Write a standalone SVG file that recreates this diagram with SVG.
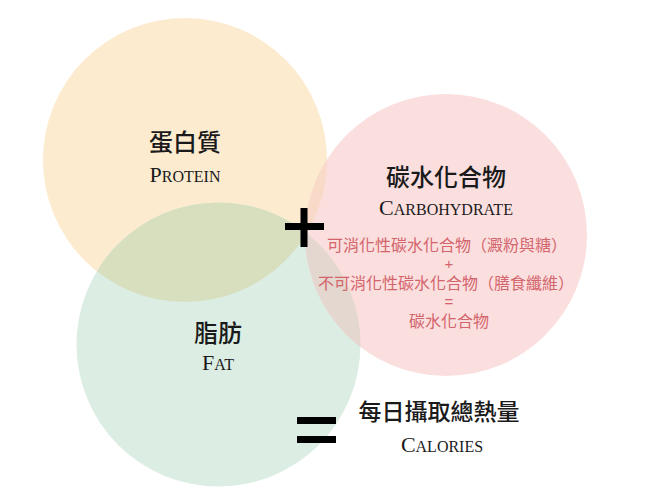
<svg xmlns="http://www.w3.org/2000/svg" width="650" height="499" viewBox="0 0 650 499">
<defs>
<style>
.zh{font-family:"Noto Sans CJK TC","Noto Sans CJK SC",sans-serif;fill:#1a1a1a;text-anchor:middle;font-weight:500}
.en{font-family:"Liberation Serif","DejaVu Serif",serif;fill:#1a1a1a;text-anchor:middle}
.big{font-size:22px}
.sm{font-size:16px}
.red{font-family:"Noto Sans CJK TC","Noto Sans CJK SC",sans-serif;fill:#d3646b;text-anchor:middle;font-size:16px}
.redop{font-family:"Liberation Sans",sans-serif;fill:#d3646b;text-anchor:middle;font-size:15px}
.op{fill:#000}
</style>
<clipPath id="cP"><circle cx="185" cy="160" r="142"/></clipPath>
<clipPath id="cF"><circle cx="218.5" cy="344.5" r="142"/></clipPath>
<clipPath id="cC"><circle cx="446" cy="235" r="141"/></clipPath>
</defs>
<rect width="650" height="499" fill="#fff"/>
<g id="circles">
<circle cx="185" cy="160" r="142" fill="#fdebd0"/>
<circle cx="218.5" cy="344.5" r="142" fill="#dcede3"/>
<circle cx="446" cy="235" r="141" fill="#fbdfdf"/>
<g clip-path="url(#cP)"><circle cx="218.5" cy="344.5" r="142" fill="#d8dfbf"/></g>
<g clip-path="url(#cP)"><circle cx="446" cy="235" r="141" fill="#f9d9c8"/></g>
<g clip-path="url(#cF)"><circle cx="446" cy="235" r="141" fill="#e3d7cf"/></g>
<g clip-path="url(#cP)"><g clip-path="url(#cF)"><circle cx="446" cy="235" r="141" fill="#dcd6c2"/></g></g>
</g>
<g id="protein">
<text class="zh" x="185" y="151" font-size="24">蛋白質</text>
<text class="en" x="185" y="182"><tspan class="big">P</tspan><tspan class="sm">ROTEIN</tspan></text>
</g>
<g id="fat">
<text class="zh" x="218" y="342" font-size="24">脂肪</text>
<text class="en" x="218" y="370"><tspan class="big">F</tspan><tspan class="sm">AT</tspan></text>
</g>
<g id="carbohydrate">
<text class="zh" x="446" y="186" font-size="24">碳水化合物</text>
<text class="en" x="446" y="215"><tspan class="big">C</tspan><tspan class="sm">ARBOHYDRATE</tspan></text>
<text class="red" x="447" y="251">可消化性碳水化合物（澱粉與糖）</text>
<text class="redop" x="449" y="269">+</text>
<text class="red" x="446" y="289">不可消化性碳水化合物（膳食纖維）</text>
<text class="redop" x="449" y="307">=</text>
<text class="red" x="449" y="327">碳水化合物</text>
</g>
<g id="calories">
<text class="zh" x="439" y="420" font-size="23">每日攝取總熱量</text>
<text class="en" x="442" y="452"><tspan class="big">C</tspan><tspan class="sm">ALORIES</tspan></text>
</g>
<g id="plus">
<rect class="op" x="285" y="223" width="39" height="7"/>
<rect class="op" x="300.5" y="208" width="7" height="39"/>
</g>
<g id="equals">
<rect class="op" x="297" y="417" width="39" height="7"/>
<rect class="op" x="297" y="436" width="39" height="7"/>
</g>
<g id="connectors"/>
</svg>
